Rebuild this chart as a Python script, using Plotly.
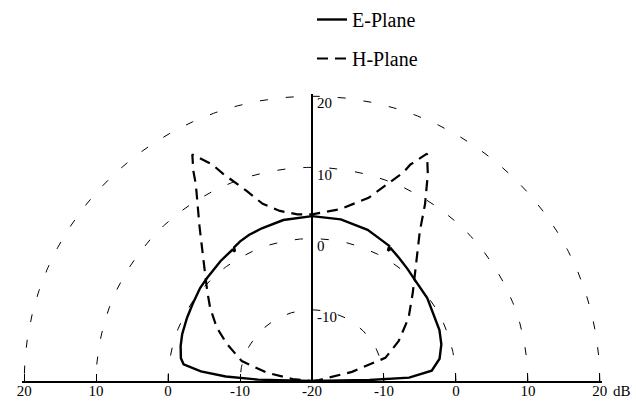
import numpy as np
import plotly.graph_objects as go

# pattern origin sits at -20 dB, outer ring at +20 dB
CENTER_DB = -20

# E-plane cut: angle from the right-hand baseline (deg) and level (dB)
e_angle = [0, 1, 2, 5, 10, 16, 22, 32, 36, 44, 50, 55, 59.5, 60, 60.5, 65, 70, 80,
           90, 100, 108, 113, 117, 120, 120.5, 121, 127, 135, 140, 147, 153, 160,
           165, 170, 172.5, 175, 177, 178.5, 180]
e_db = [-20, -12, -6.5, -3.3, -2.0, -1.3, -0.9, -0.5, -0.2, 0.1, 0.6, 1.1, 1.6, 1.1, 1.8, 2.1, 2.6, 3.05,
        3.15, 2.95, 2.55, 2.3, 2.0, 1.65, 1.1, 1.5, 1.1, 0.55, 0.3, -0.2, -0.5, -0.8,
        -1.1, -1.5, -2.0, -4.5, -8, -12.5, -20]

# H-plane cut
h_angle = [0, 7.7, 13, 17.7, 25, 33.5, 41.5, 49, 54.5, 57.7, 61, 63.4, 65.8, 66.5, 69, 73, 81,
           90, 95, 100.6, 105.4, 108.8, 113, 114.5, 117.6, 119.2, 120.3, 122.3, 125.7,
           131.8, 139, 144, 150.5, 156.3, 164, 169.5, 174, 180]
h_db = [-20, -19, -14.3, -9.3, -6.7, -3.9, -1.3, 2.0, 5.8, 9.4, 13.2, 15.7, 13.3, 12, 9.8, 6.9, 4.4,
        3.4, 3.5, 4.3, 5.8, 8.2, 11.6, 13.4, 15.9, 13.8, 12.0, 9.9, 6.8,
        2.6, -0.7, -2.5, -4.8, -7.1, -9.85, -13.6, -17.3, -20]

ring_db = [-10, 0, 10, 20]
base_tick_db = [20, 10, 0, -10, -20, -10, 0, 10, 20]   # read left to right along the baseline
axis_tick_db = [-10, 0, 10, 20]                        # up the vertical axis

FONT = '"Liberation Serif", "Times New Roman", Times, "DejaVu Serif", serif'


def to_xy(angle_deg, db):
    r = np.asarray(db, dtype=float) - CENTER_DB
    t = np.radians(np.asarray(angle_deg, dtype=float))
    return r * np.cos(t), r * np.sin(t)


fig = go.Figure()

# dashed range rings
arc = np.linspace(0, 180, 361)
for d in ring_db:
    ax, ay = to_xy(arc, np.full(arc.shape, d))
    fig.add_trace(go.Scatter(x=ax, y=ay, mode="lines", showlegend=False, hoverinfo="skip",
                             line=dict(color="black", width=1, dash="8px,18px")))

ex, ey = to_xy(e_angle, e_db)
fig.add_trace(go.Scatter(x=ex, y=ey, mode="lines", name="E-Plane", legendgroup="e",
                         line=dict(color="black", width=2.4)))
hx, hy = to_xy(h_angle, h_db)
fig.add_trace(go.Scatter(x=hx, y=hy, mode="lines", name="H-Plane", legendgroup="h",
                         line=dict(color="black", width=2.2, dash="11px,7px")))

# baseline ticks: left half mirrored to negative x
rmax = max(ring_db) - CENTER_DB
half = len(base_tick_db) // 2
base_pos = [-(d - CENTER_DB) if i < half else (d - CENTER_DB) for i, d in enumerate(base_tick_db)]

W, H = 636, 401
M = dict(l=22, r=34, t=0, b=20)
plot_top = 94  # px from the top; legend lives in the paper area above it
paper_h = H - M["t"] - M["b"]

pad = 0.3
fig.update_xaxes(range=[-rmax - pad, rmax + pad], tickvals=base_pos,
                 ticktext=[str(d) for d in base_tick_db], automargin=False,
                 showgrid=False, zeroline=True, zerolinecolor="black", zerolinewidth=1.5,
                 showline=True, linecolor="black", linewidth=1.5,
                 ticks="inside", ticklen=7, tickcolor="black", ticklabelstandoff=-5,
                 tickfont=dict(family=FONT, size=15, color="black"))
fig.update_yaxes(range=[0, rmax + pad], domain=[0, (paper_h - plot_top) / paper_h],
                 tickvals=[d - CENTER_DB for d in axis_tick_db],
                 ticktext=[str(d) for d in axis_tick_db], automargin=False,
                 anchor="free", position=0.5, side="right", showgrid=False, zeroline=False,
                 showline=False, ticks="", ticklabelshift=7, ticklabelstandoff=4,
                 tickfont=dict(family=FONT, size=15, color="black"))

fig.add_annotation(text="dB", xref="paper", yref="paper", x=1, y=0, xanchor="left", yanchor="top",
                   xshift=9, yshift=0, showarrow=False, font=dict(family=FONT, size=15, color="black"))

fig.update_layout(
    width=W, height=H, margin=M,
    font=dict(family=FONT, color="black"),
    paper_bgcolor="white", plot_bgcolor="white",
    showlegend=True,
    legend=dict(x=0.5, y=1, xanchor="left", yanchor="top",
                font=dict(family=FONT, size=20, color="black"), tracegroupgap=10,
                bgcolor="rgba(0,0,0,0)"),
)

# drop the page's default 8px body margin so the figure sits at the window origin
fig.write_html("out.html", config={"displayModeBar": False},
               post_script="document.body.style.margin = '0';")
